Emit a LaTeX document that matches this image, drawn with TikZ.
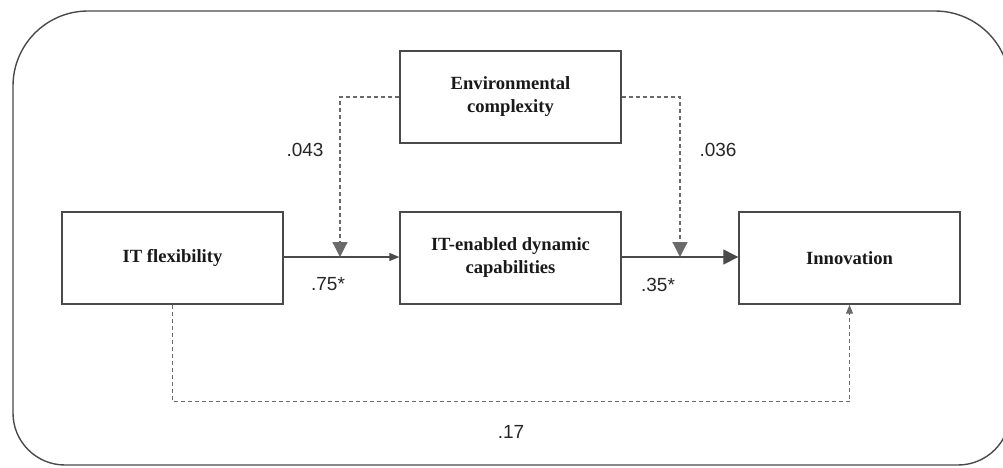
\documentclass[tikz,border=0pt]{standalone}
\usepackage{fontspec}
\setmainfont{Liberation Serif}
\newfontfamily\arialfont{Liberation Sans}
\usetikzlibrary{arrows.meta}
\definecolor{linegray}{HTML}{4A4A4A}
\definecolor{dashgray}{HTML}{6A6A6A}
\tikzset{
  x=1pt, y=1pt,
  boxnode/.style={draw=linegray, line width=1.4pt, minimum width=221pt, minimum height=92pt,
    align=center, font=\fontsize{18.6}{23}\selectfont\bfseries, text=black!90, inner sep=0pt},
  coef/.style={font=\arialfont\fontsize{19}{20}\selectfont, text=black!85, inner sep=0pt},
  solidarrow/.style={draw=linegray, line width=1.3pt},
  modarrow/.style={draw=dashgray, line width=1.2pt, dash pattern=on 4pt off 3pt,
    -{Triangle[width=15pt,length=15pt]}},
  bigtip/.style={-{Triangle[width=15pt,length=15pt]}},
  smalltip/.style={-{Triangle[width=8pt,length=10pt]}},
}
\begin{document}
\begin{tikzpicture}
\useasboundingbox (0,0) rectangle (1003,-467);
% outer frame
\draw[draw=linegray, line width=1.4pt] (13,-240) [rounded corners=75pt] -- (13,-11) -- (1010,-11) -- (1010,-240)
  [rounded corners=52pt] -- (1010,-465) -- (13,-465) -- cycle;
% boxes
\node[boxnode] (itf) at (172.5,-258) {IT flexibility};
\node[boxnode] (dyn) at (510.5,-258) {IT-enabled dynamic\\capabilities};
\node[boxnode] (inn) at (849.5,-258) {Innovation};
\node[boxnode] (env) at (510.5,-97) {Environmental\\complexity};
% moderator points
\coordinate (m1) at (340,-257);
\coordinate (m2) at (680,-257);
% main paths
\draw[solidarrow, smalltip] (itf.east |- 0,-257) -- (dyn.west |- 0,-257);
\draw[solidarrow, bigtip] (dyn.east |- 0,-257) -- (inn.west |- 0,-257);
% moderating dashed paths
\draw[modarrow] (env.west) -| (m1);
\draw[modarrow] (env.east) -| (m2);
% direct dashed path
\draw[draw=dashgray, line width=1.2pt, dash pattern=on 4pt off 3pt, -{Triangle[width=7pt,length=9pt]}]
  (itf.south) -- ++(0,-97) -| (inn.south);
% coefficients
\node[coef] (c1) at (305,-150) {.043};
\node[coef] (c2) at (718,-150) {.036};
\node[coef] (c3) at (328,-284) {.75*};
\node[coef] (c4) at (658,-285) {.35*};
\node[coef] (c5) at (511,-432) {.17};
\end{tikzpicture}
\end{document}
